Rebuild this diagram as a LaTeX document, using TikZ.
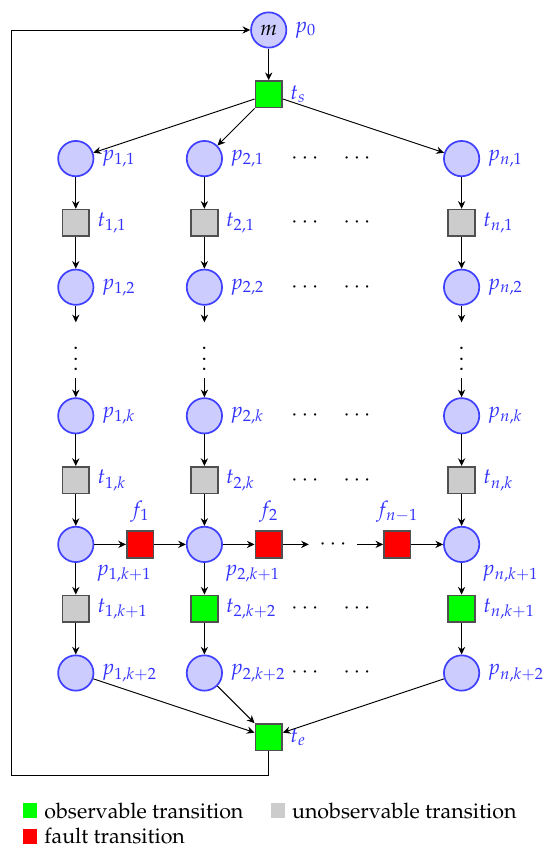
\documentclass[tikz,border=0pt]{standalone}
\usepackage[T1]{fontenc}
\usepackage{mathpazo}
\usetikzlibrary{arrows.meta}
\definecolor{plfill}{RGB}{204,204,255}
\definecolor{plborder}{RGB}{64,64,255}
\definecolor{lblue}{RGB}{51,51,255}
\definecolor{trborder}{RGB}{80,80,80}
\definecolor{obsgreen}{RGB}{0,255,0}
\definecolor{unobsgray}{RGB}{204,204,204}
\definecolor{faultred}{RGB}{255,0,0}
\newcommand{\myvdots}{\vbox{\baselineskip5pt\lineskiplimit0pt\hbox{.}\hbox{.}\hbox{.}}}
\begin{document}
\begin{tikzpicture}[x=0.4673pt,y=-0.4673pt,
  >={Stealth[length=3.6pt,width=3.4pt,inset=1.2pt]},
  place/.style={circle,draw=plborder,fill=plfill,line width=0.8pt,minimum size=16.5pt,inner sep=0pt},
  trans/.style={rectangle,draw=trborder,line width=0.8pt,minimum size=12.4pt,inner sep=0pt},
  obs/.style={trans,fill=obsgreen},
  unobs/.style={trans,fill=unobsgray},
  fault/.style={trans,fill=faultred},
  arc/.style={->,line width=0.45pt},
  every label/.style={text=lblue},
  legsq/.style={inner sep=0pt,minimum width=6.8pt,minimum height=6.9pt},
  legtxt/.style={anchor=base west,inner sep=0pt}
]
\useasboundingbox (0,0) rectangle (544,848);

% top
\node[place,label=right:$p_0$] (p0) at (268.7,30) {$m$};
\node[obs,label=right:$t_s$] (ts) at (268.7,94.3) {};

% column 1
\node[place,label=right:$p_{1,1}$] (p11) at (75.8,158.6) {};
\node[unobs,label=right:$t_{1,1}$] (t11) at (75.8,222.9) {};
\node[place,label=right:$p_{1,2}$] (p12) at (75.8,287.2) {};
\coordinate (a1) at (75.8,322.3);
\node (v1) at (75.8,359) {\myvdots};
\coordinate (b1) at (75.8,378);
\node[place,label=right:$p_{1,k}$] (p1k) at (75.8,415.8) {};
\node[unobs,label=right:$t_{1,k}$] (t1k) at (75.8,480.1) {};
\node[place,label=below right:$p_{1,k+1}$] (p1k1) at (75.8,544.4) {};
\node[unobs,label=right:$t_{1,k+1}$] (t1k1) at (75.8,608.7) {};
\node[place,label=right:$p_{1,k+2}$] (p1k2) at (75.8,673) {};

% column 2
\node[place,label=right:$p_{2,1}$] (p21) at (204.4,158.6) {};
\node[unobs,label=right:$t_{2,1}$] (t21) at (204.4,222.9) {};
\node[place,label=right:$p_{2,2}$] (p22) at (204.4,287.2) {};
\coordinate (a2) at (204.4,322.3);
\node (v2) at (204.4,359) {\myvdots};
\coordinate (b2) at (204.4,378);
\node[place,label=right:$p_{2,k}$] (p2k) at (204.4,415.8) {};
\node[unobs,label=right:$t_{2,k}$] (t2k) at (204.4,480.1) {};
\node[place,label=below right:$p_{2,k+1}$] (p2k1) at (204.4,544.4) {};
\node[obs,label=right:$t_{2,k+2}$] (t2k1) at (204.4,608.7) {};
\node[place,label=right:$p_{2,k+2}$] (p2k2) at (204.4,673) {};

% column n
\node[place,label=right:$p_{n,1}$] (pn1) at (461.6,158.6) {};
\node[unobs,label=right:$t_{n,1}$] (tn1) at (461.6,222.9) {};
\node[place,label=right:$p_{n,2}$] (pn2) at (461.6,287.2) {};
\coordinate (an) at (461.6,322.3);
\node (vn) at (461.6,359) {\myvdots};
\coordinate (bn) at (461.6,378);
\node[place,label=right:$p_{n,k}$] (pnk) at (461.6,415.8) {};
\node[unobs,label=right:$t_{n,k}$] (tnk) at (461.6,480.1) {};
\node[place,label=below right:$p_{n,k+1}$] (pnk1) at (461.6,544.4) {};
\node[obs,label=right:$t_{n,k+1}$] (tnk1) at (461.6,608.7) {};
\node[place,label=right:$p_{n,k+2}$] (pnk2) at (461.6,673) {};

% horizontal dots
\foreach \y/\n in {158.6/1,222.9/2,287.2/3,415.8/4,480.1/5,608.7/6,673/7}
  \node (dots\n) at (331,\y) {$\cdots\quad\cdots$};

% fault transitions
\node[fault,label=above:$f_1$] (f1) at (140.1,544.4) {};
\node[fault,label=above:$f_2$] (f2) at (268.7,544.4) {};
\node[inner sep=0pt,minimum width=22.2pt] (fd) at (333,544.4) {$\cdots$};
\node[fault,label=above:$f_{n-1}$] (fn) at (397.3,544.4) {};

% end transition
\node[obs,label=right:$t_e$] (te) at (268.7,737.3) {};
\coordinate (cl) at (11.7,775);

% arcs
\draw[arc] (p0) -- (ts);
\draw[arc] (ts) -- (p11);
\draw[arc] (ts) -- (p21);
\draw[arc] (ts) -- (pn1);

\draw[arc] (p11) -- (t11);
\draw[arc] (t11) -- (p12);
\draw[arc] (p12) -- (a1);
\draw[arc] (b1) -- (p1k);
\draw[arc] (p1k) -- (t1k);
\draw[arc] (t1k) -- (p1k1);
\draw[arc] (p1k1) -- (t1k1);
\draw[arc] (t1k1) -- (p1k2);

\draw[arc] (p21) -- (t21);
\draw[arc] (t21) -- (p22);
\draw[arc] (p22) -- (a2);
\draw[arc] (b2) -- (p2k);
\draw[arc] (p2k) -- (t2k);
\draw[arc] (t2k) -- (p2k1);
\draw[arc] (p2k1) -- (t2k1);
\draw[arc] (t2k1) -- (p2k2);

\draw[arc] (pn1) -- (tn1);
\draw[arc] (tn1) -- (pn2);
\draw[arc] (pn2) -- (an);
\draw[arc] (bn) -- (pnk);
\draw[arc] (pnk) -- (tnk);
\draw[arc] (tnk) -- (pnk1);
\draw[arc] (pnk1) -- (tnk1);
\draw[arc] (tnk1) -- (pnk2);

\draw[arc] (p1k1) -- (f1);
\draw[arc] (f1) -- (p2k1);
\draw[arc] (p2k1) -- (f2);
\draw[arc] (f2) -- (fd);
\draw[arc] (fd) -- (fn);
\draw[arc] (fn) -- (pnk1);

\draw[arc] (p1k2) -- (te);
\draw[arc] (p2k2) -- (te);
\draw[arc] (pnk2) -- (te);

\draw[arc] (te.south) |- (cl) |- (p0.west);

% legend
\node[legsq,fill=obsgreen] (lg) at (30,810.8) {};
\node[legtxt] (lgt) at (44,818.3) {observable transition};
\node[legsq,fill=unobsgray] (lu) at (278,810.8) {};
\node[legtxt] (lut) at (291.7,818.3) {unobservable transition};
\node[legsq,fill=faultred] (lf) at (30,836.3) {};
\node[legtxt] (lft) at (44,843.8) {fault transition};
\end{tikzpicture}
\end{document}
